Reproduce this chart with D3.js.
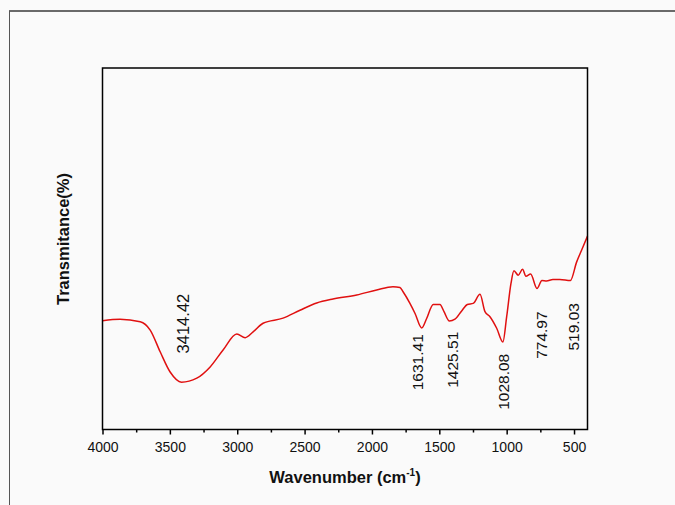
<!DOCTYPE html>
<html>
<head>
<meta charset="utf-8">
<script src="https://cdn.jsdelivr.net/npm/d3@7"></script>
<style>
  html, body { margin: 0; padding: 0; background: #fafafa; }
  svg { display: block; font-family: "Liberation Sans", Arial, sans-serif; }
</style>
</head>
<body>
<script>
// FTIR spectrum (transmittance in arbitrary %)
const wavenumber = [4000, 3870, 3720, 3646, 3572, 3498, 3414, 3300, 3201, 3105,
  3003, 2941, 2882, 2808, 2660, 2534, 2410, 2289, 2113, 1965,
  1844, 1792, 1769, 1718, 1680, 1631, 1594, 1545, 1495, 1465,
  1425, 1384, 1334, 1292, 1248, 1198, 1161, 1124, 1074, 1028,
  1000, 968, 946, 914, 882, 857, 822, 775, 738, 704,
  657, 605, 527, 481, 444, 400]
const transmittance = [30.1, 30.5, 29.8, 27.5, 21.5, 15.9, 13.1, 14.2, 17.3, 22.0,
  26.4, 25.4, 27.0, 29.4, 30.8, 33.0, 35.0, 36.1, 37.2, 38.6,
  39.5, 39.3, 38.1, 34.9, 32.1, 28.1, 30.7, 34.6, 34.6, 32.6,
  30.0, 30.5, 32.8, 34.6, 34.9, 37.4, 32.6, 31.2, 28.0, 24.2,
  31.2, 40.4, 43.9, 42.7, 44.3, 42.4, 43.0, 39.0, 41.2, 41.1,
  41.5, 41.5, 41.2, 46.3, 49.6, 53.5]

// peak labels and where their centres sit (wavenumber, transmittance)
const peakLabels = ["3414.42", "1631.41", "1425.51", "1028.08", "774.97", "519.03"]
const peakPos = [3400, 1660, 1400, 1020, 740, 505]
const peakLabelT = [29.3, 18.6, 19.3, 13.2, 26.1, 28.4]
const peakSize = [16.5, 15.5, 15.5, 15.5, 15.5, 15.5]

const majorTicks = [4000, 3500, 3000, 2500, 2000, 1500, 1000, 500]
const minorTicks = [3750, 3250, 2750, 2250, 1750, 1250, 750]

const W = 675, H = 505
const mLeft = 102.5, mRight = 587.5, mTop = 68, mBottom = 429.5

const svg = d3.select('body')
    .append('svg')
    .attr('width', W)
    .attr('height', H)

// outer frame (top and left edges only)
svg.append('line')
    .attr('x1', 9).attr('y1', 11).attr('x2', W).attr('y2', 11)
    .attr('stroke', '#6a6a6a').attr('stroke-width', 2)
svg.append('line')
    .attr('x1', 9.5).attr('y1', 11).attr('x2', 9.5).attr('y2', H)
    .attr('stroke', '#555').attr('stroke-width', 1)

const x = d3.scaleLinear().domain([4000, 400]).range([mLeft, mRight])
const y = d3.scaleLinear().domain([0, 100]).range([mBottom, mTop])

const data = wavenumber.map((w, i) => ({ w: w, t: transmittance[i] }))

const line = d3.line()
    .x(d => x(d.w))
    .y(d => y(d.t))
    .curve(d3.curveMonotoneX)

svg.append('path')
    .datum(data)
    .attr('fill', 'none')
    .attr('stroke', '#e01010')
    .attr('stroke-width', 1.5)
    .attr('d', line)

// axes
const xAxis = d3.axisBottom(x)
    .tickValues(majorTicks)
    .tickFormat(d3.format('d'))
    .tickSize(5)
    .tickSizeOuter(0)

const gx = svg.append('g')
    .attr('transform', `translate(0, ${mBottom})`)
    .call(xAxis)
gx.select('.domain').remove()
gx.selectAll('line').attr('stroke', '#000').attr('stroke-width', 1.5)
gx.selectAll('text')
    .attr('y', 12.5)
    .attr('fill', '#111')
    .style('font-size', '14px')

const gxm = svg.append('g')
    .attr('transform', `translate(0, ${mBottom})`)
    .call(d3.axisBottom(x).tickValues(minorTicks).tickSize(3).tickFormat(''))
gxm.select('.domain').remove()
gxm.selectAll('line').attr('stroke', '#000').attr('stroke-width', 1.5)

// plot frame
svg.append('rect')
    .attr('x', mLeft).attr('y', mTop)
    .attr('width', mRight - mLeft).attr('height', mBottom - mTop)
    .attr('fill', 'none')
    .attr('stroke', '#000')
    .attr('stroke-width', 1.5)

// peak labels
svg.selectAll('text.peak')
    .data(peakLabels)
    .enter()
    .append('text')
    .attr('class', 'peak')
    .attr('transform', (d, i) => `translate(${x(peakPos[i])}, ${y(peakLabelT[i])}) rotate(-90)`)
    .attr('text-anchor', 'middle')
    .attr('dy', '0.35em')
    .attr('fill', '#111')
    .style('font-size', (d, i) => peakSize[i] + 'px')
    .text(d => d)

// axis titles
const xt = svg.append('text')
    .attr('x', 345)
    .attr('y', 483)
    .attr('text-anchor', 'middle')
    .attr('fill', '#111')
    .style('font-size', '16.5px')
    .style('font-weight', 'bold')
xt.append('tspan').text('Wavenumber (cm')
xt.append('tspan').attr('dy', -7).style('font-size', '10px').text('-1')
xt.append('tspan').attr('dy', 7).text(')')

svg.append('text')
    .attr('transform', 'translate(63, 239) rotate(-90)')
    .attr('text-anchor', 'middle')
    .attr('dy', '0.35em')
    .attr('fill', '#111')
    .style('font-size', '16.5px')
    .style('font-weight', 'bold')
    .text('Transmitance(%)')
</script>
</body>
</html>
